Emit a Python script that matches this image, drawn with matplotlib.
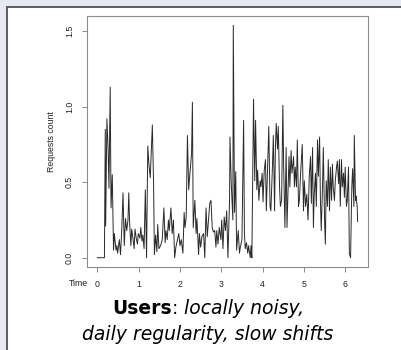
import numpy as np
import matplotlib.pyplot as plt
from matplotlib.patches import Rectangle

# time in days, requests count
t = [0.00, 0.17, 0.19, 0.20, 0.23, 0.26, 0.28, 0.31, 0.33, 0.36, 0.39, 0.41, 0.45, 0.47, 0.49,
     0.53, 0.56, 0.59, 0.62, 0.65, 0.68, 0.71, 0.74, 0.76, 0.78, 0.81, 0.83, 0.86, 0.89, 0.91,
     0.94, 0.97, 0.99, 1.03, 1.05, 1.08, 1.10, 1.13, 1.16, 1.19, 1.22, 1.25, 1.28, 1.33, 1.36,
     1.38, 1.41, 1.44, 1.46, 1.49, 1.53, 1.57, 1.61, 1.64, 1.66, 1.69, 1.72, 1.74, 1.78, 1.81,
     1.84, 1.87, 1.90, 1.94, 1.97, 2.00, 2.03, 2.07, 2.10, 2.12, 2.15, 2.18, 2.21, 2.24, 2.28,
     2.30, 2.32, 2.36, 2.39, 2.41, 2.45, 2.47, 2.50, 2.53, 2.57, 2.60, 2.63, 2.66, 2.70, 2.72,
     2.75, 2.78, 2.81, 2.84, 2.87, 2.89, 2.92, 2.95, 2.99, 3.01, 3.04, 3.07, 3.10, 3.13, 3.16,
     3.20, 3.21, 3.24, 3.28, 3.29, 3.32, 3.35, 3.37, 3.41, 3.44, 3.46, 3.50, 3.54, 3.56, 3.58,
     3.61, 3.64, 3.66, 3.70, 3.72, 3.74, 3.78, 3.81, 3.83, 3.86, 3.88, 3.91, 3.94, 3.96, 3.99,
     4.01, 4.04, 4.07, 4.09, 4.12, 4.15, 4.18, 4.20, 4.24, 4.26, 4.29, 4.31, 4.33, 4.36, 4.38,
     4.41, 4.43, 4.46, 4.49, 4.51, 4.54, 4.57, 4.59, 4.62, 4.64, 4.66, 4.69, 4.71, 4.75, 4.77,
     4.79, 4.82, 4.84, 4.87, 4.89, 4.92, 4.94, 4.96, 4.99, 5.01, 5.04, 5.07, 5.10, 5.13, 5.16,
     5.18, 5.21, 5.23, 5.25, 5.28, 5.30, 5.33, 5.35, 5.38, 5.40, 5.42, 5.45, 5.47, 5.50, 5.52,
     5.54, 5.57, 5.59, 5.62, 5.64, 5.67, 5.69, 5.71, 5.74, 5.76, 5.79, 5.81, 5.84, 5.86, 5.88,
     5.91, 5.93, 5.96, 5.98, 6.00, 6.03, 6.05, 6.08, 6.10, 6.13, 6.16, 6.18, 6.21, 6.22, 6.25,
     6.26, 6.29, 6.30]
requests = [0.00, 0.00, 0.85, 0.21, 0.92, 0.71, 0.46, 1.13, 0.33, 0.55, 0.05, 0.16, 0.05, 0.08, 0.03,
            0.12, 0.02, 0.19, 0.43, 0.08, 0.26, 0.18, 0.25, 0.43, 0.23, 0.08, 0.19, 0.13, 0.06, 0.19,
            0.13, 0.09, 0.16, 0.13, 0.20, 0.11, 0.15, 0.06, 0.45, 0.00, 0.74, 0.61, 0.53, 0.88, 0.49,
            0.02, 0.15, 0.04, 0.22, 0.06, 0.08, 0.12, 0.33, 0.10, 0.18, 0.12, 0.25, 0.18, 0.33, 0.16,
            0.25, 0.00, 0.07, 0.12, 0.16, 0.08, 0.12, 0.03, 0.30, 0.20, 0.27, 0.81, 0.45, 0.56, 0.69,
            1.03, 0.20, 0.38, 0.16, 0.26, 0.02, 0.16, 0.07, 0.14, 0.16, 0.00, 0.33, 0.14, 0.29, 0.36,
            0.38, 0.20, 0.17, 0.18, 0.07, 0.18, 0.09, 0.20, 0.12, 0.25, 0.06, 0.27, 0.18, 0.31, 0.00,
            0.38, 0.80, 0.50, 0.25, 1.54, 0.30, 0.57, 0.05, 0.18, 0.03, 0.07, 0.12, 0.91, 0.16, 0.06,
            0.10, 0.03, 0.08, 0.00, 0.08, 0.00, 1.05, 0.51, 0.91, 0.45, 0.58, 0.38, 0.51, 0.47, 0.56,
            0.37, 0.58, 0.65, 0.31, 0.58, 0.87, 0.34, 0.31, 0.62, 0.81, 0.31, 0.73, 0.89, 0.72, 0.87,
            0.47, 0.34, 0.38, 1.01, 0.60, 0.20, 0.73, 0.20, 0.49, 0.67, 0.47, 0.71, 0.56, 0.67, 0.47,
            0.60, 0.47, 0.78, 0.34, 0.38, 0.56, 0.65, 0.75, 0.31, 0.51, 0.34, 0.42, 0.25, 0.54, 0.67,
            0.36, 0.73, 0.20, 0.42, 0.56, 0.34, 0.78, 0.54, 0.80, 0.38, 0.18, 0.47, 0.73, 0.25, 0.09,
            0.51, 0.34, 0.65, 0.31, 0.60, 0.38, 0.62, 0.47, 0.38, 0.51, 0.60, 0.64, 0.49, 0.65, 0.34,
            0.65, 0.47, 0.56, 0.40, 0.60, 0.34, 0.38, 0.60, 0.03, 0.00, 0.47, 0.59, 0.34, 0.81, 0.38,
            0.41, 0.34, 0.24]
xticks = [0, 1, 2, 3, 4, 5, 6]
yticks = [0.0, 0.5, 1.0, 1.5]

plt.rcParams['font.family'] = ['Liberation Sans', 'DejaVu Sans']

fig = plt.figure(figsize=(4.02, 3.5), dpi=100, facecolor='#e8e8f3')
fig.patches.append(Rectangle((7.5 / 402, -0.1), 1.2, 1.1 - 7.5 / 350, transform=fig.transFigure,
                             facecolor='white', edgecolor='#50505a', lw=1.3, zorder=-5))

ax = fig.add_axes([87 / 402, 1 - 267 / 350, 281 / 402, 251 / 350], zorder=2)
ax.plot(t, requests, color='#2a2a2a', lw=0.7)
ax.set_xlim(-0.252, 6.552)
ax.set_ylim(-0.0616, 1.6016)
ax.set_xticks(xticks)
ax.set_yticks(yticks)
ax.set_xticklabels([str(v) for v in xticks], fontsize=6.3)
ax.set_yticklabels(['%.1f' % v for v in yticks], fontsize=6.3, rotation=90, va='center')
for s in ax.spines.values():
    s.set_color('#8c8c8c')
    s.set_linewidth(0.8)
ax.tick_params(colors='#8c8c8c', labelcolor='#222222', length=3.5, width=0.7, pad=6)
ax.set_ylabel('Requests count', fontsize=6.3, color='#222222', labelpad=6)
fig.text(78 / 402, 1 - 283 / 350, 'Time', fontsize=6.3, color='#222222', ha='center', va='center')

# caption with mixed styles
fs = 13.5
r = fig.canvas.get_renderer()
pieces = [('Users', 'bold', 'normal'), (': ', 'normal', 'normal'), ('locally noisy,', 'normal', 'italic')]
texts = []
for s, w, st in pieces:
    tx = fig.text(0, 1 - 314 / 350, s, fontsize=fs, fontweight=w, fontstyle=st,
                  family='DejaVu Sans', ha='left', va='baseline', color='black')
    texts.append(tx)
widths = [tx.get_window_extent(r).width for tx in texts]
x0 = 208 - sum(widths) / 2
for tx, w in zip(texts, widths):
    tx.set_x(x0 / 402)
    x0 += w
fig.text(208 / 402, 1 - 340 / 350, 'daily regularity, slow shifts', fontsize=fs, fontstyle='italic',
         family='DejaVu Sans', ha='center', va='baseline', color='black')

fig.savefig('out.png', dpi=100, facecolor=fig.get_facecolor())
